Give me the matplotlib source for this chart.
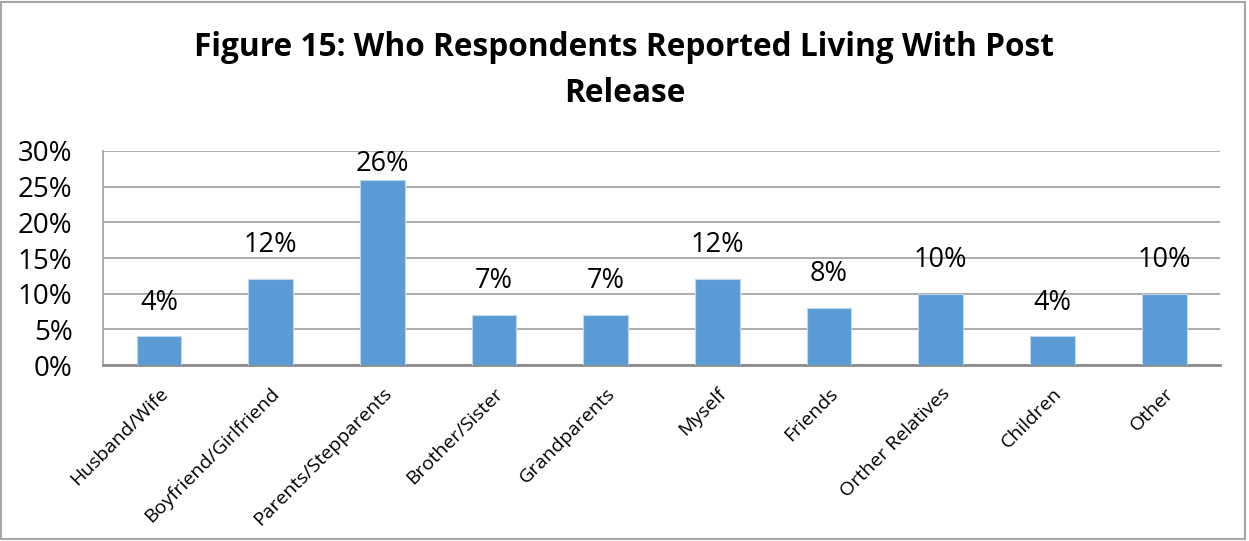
import matplotlib.pyplot as plt
from matplotlib.patches import Rectangle

categories = ["Husband/Wife", "Boyfriend/Girlfriend", "Parents/Stepparents",
              "Brother/Sister", "Grandparents", "Myself", "Friends",
              "Orther Relatives", "Children", "Other"]
values = [4, 12, 26, 7, 7, 12, 8, 10, 4, 10]
yticks = [0, 5, 10, 15, 20, 25, 30]
title = "Figure 15: Who Respondents Reported Living With Post\nRelease"

plt.rcParams['font.family'] = ['Open Sans', 'DejaVu Sans']

fig = plt.figure(figsize=(12.49, 5.41), dpi=100)
ax = fig.add_axes([0.0825, 0.3253, 0.8943, 0.3956])

x = list(range(len(categories)))
ax.bar(x, values, width=0.4, color='#5B9BD5', edgecolor='#BDD7EE', linewidth=0.8, zorder=3)

# value labels above the bars (the tallest one is held just under the top)
for xi, v in zip(x, values):
    ax.text(xi, min(v + 2.8, 26.2), f"{v}%", ha='center', va='bottom',
            fontsize=19.5, color='black', zorder=4)

ax.set_xlim(-0.5, len(categories) - 0.5)
ax.set_ylim(0, 30)
ax.set_yticks(yticks)
ax.set_yticklabels([f"{t}%" for t in yticks], fontsize=20)
ax.set_xticks(x)
ax.set_xticklabels(categories, rotation=45, ha='right', rotation_mode='anchor', fontsize=14)
ax.tick_params(axis='x', length=0, pad=14)
ax.tick_params(axis='y', length=0, pad=22)
ax.grid(axis='y', color='#A6A6A6', linewidth=1.3, zorder=0)

for side in ['top', 'right']:
    ax.spines[side].set_visible(False)
ax.spines['left'].set_color('#A6A6A6')
ax.spines['left'].set_linewidth(1.3)
ax.spines['bottom'].set_color('#8C8C8C')
ax.spines['bottom'].set_linewidth(2)

fig.text(0.5, 0.870, title, ha='center', va='center', fontsize=22.8,
         fontweight='bold', linespacing=1.5)

fig.patches.append(Rectangle((0.001, 0.003), 0.996, 0.994, transform=fig.transFigure,
                             fill=False, edgecolor='#A6A6A6', linewidth=1.5))

plt.savefig("out.png", dpi=100, facecolor='white')
plt.close()
